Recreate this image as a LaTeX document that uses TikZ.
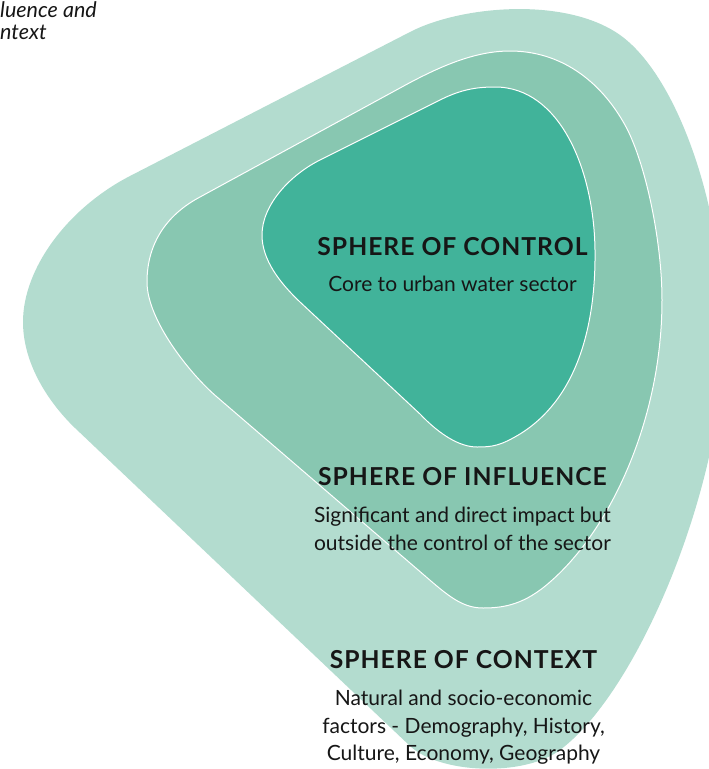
\documentclass[tikz,border=0pt]{standalone}
\usepackage{fontspec}
\setmainfont{Lato}
\newfontfamily\headfont[LetterSpace=4]{Lato}
\definecolor{outerc}{RGB}{179,220,207}
\definecolor{midc}{RGB}{136,199,177}
\definecolor{innerc}{RGB}{65,179,154}
\definecolor{txt}{RGB}{22,22,22}
\tikzset{
  head/.style={anchor=base, inner sep=0pt, text=txt, font=\headfont\bfseries\fontsize{24.7}{28}\selectfont},
  body/.style={anchor=base, inner sep=0pt, text=txt, font=\fontsize{21}{25}\selectfont},
  note/.style={anchor=base west, inner sep=0pt, text=txt, font=\itshape\fontsize{21.5}{25}\selectfont},
  sphere/.style={draw=white, line width=1pt}
}
\begin{document}
\begin{tikzpicture}[x=1pt,y=-1pt]
\useasboundingbox (0,0) rectangle (709,769);
\begin{scope}
\clip (0,0) rectangle (709,769);
% sphere of context
\fill[outerc] (23,322) .. controls (23,268) and (68,208) .. (130,176)
  -- (410,32) .. controls (460,6) and (565,-4) .. (620,35)
  .. controls (675,74) and (722,200) .. (724,330)
  .. controls (726,480) and (640,690) .. (560,750)
  .. controls (524,777) and (440,774) .. (410,746)
  -- (75,428) .. controls (50,404) and (23,365) .. (23,322) -- cycle;
% sphere of influence
\filldraw[midc, sphere] (147,282) .. controls (147,242) and (168,214) .. (200,197)
  -- (400,88) .. controls (440,66) and (475,51) .. (510,51)
  .. controls (560,51) and (600,80) .. (625,125)
  .. controls (645,161) and (662,240) .. (662,300)
  .. controls (662,420) and (610,530) .. (550,582)
  .. controls (525,604) and (505,608) .. (483,608)
  .. controls (460,608) and (445,593) .. (417,569)
  -- (217,397) .. controls (190,374) and (147,320) .. (147,282) -- cycle;
% sphere of control
\filldraw[innerc, sphere] (262,235) .. controls (262,205) and (290,175) .. (320,160)
  -- (440,100) .. controls (460,90) and (475,87) .. (495,87)
  .. controls (560,87) and (594,170) .. (595,250)
  .. controls (596,330) and (575,400) .. (520,434)
  .. controls (500,446) and (492,447) .. (477,447)
  .. controls (460,447) and (440,435) .. (420,414)
  -- (300,302) .. controls (280,283) and (262,260) .. (262,235) -- cycle;
\end{scope}
\node[note] (n1) at (0,17) {luence and};
\node[note] (n2) at (0,39) {ntext};
\node[head] (h1) at (452.5,255) {SPHERE OF CONTROL};
\node[body] (b1) at (452.5,291) {Core to urban water sector};
\node[head] (h2) at (462.5,485) {SPHERE OF INFLUENCE};
\node[body] (b2a) at (462.5,522) {Significant and direct impact but};
\node[body] (b2b) at (462.5,550) {outside the control of the sector};
\node[head] (h3) at (463.5,668) {SPHERE OF CONTEXT};
\node[body] (b3a) at (463.5,705) {Natural and socio-economic};
\node[body] (b3b) at (463.5,733) {factors - Demography, History,};
\node[body] (b3c) at (463.5,760) {Culture, Economy, Geography};
\end{tikzpicture}
\end{document}
